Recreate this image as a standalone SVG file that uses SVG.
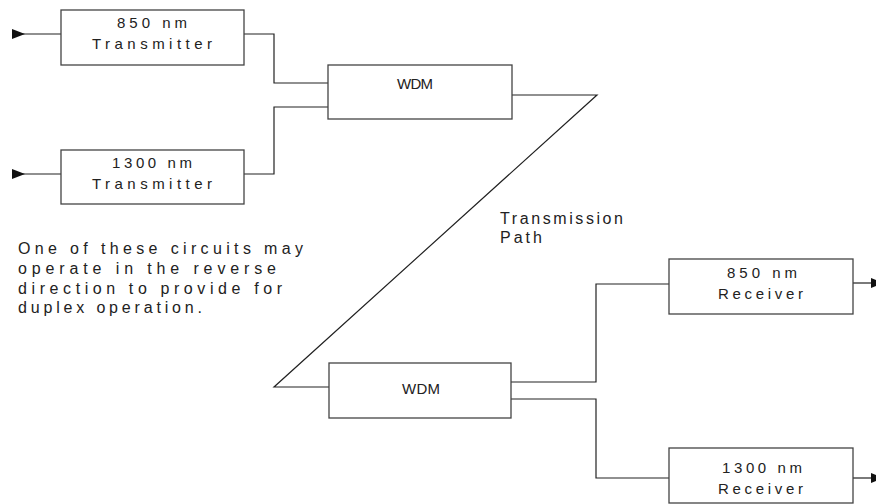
<svg xmlns="http://www.w3.org/2000/svg" width="876" height="504" viewBox="0 0 876 504">
<style>
.box{fill:#fff;stroke:#444;stroke-width:1.3}
.wire{fill:none;stroke:#222;stroke-width:1.2}
text{font-family:"Liberation Sans",Arial,sans-serif;fill:#222;font-size:15px;lengthAdjust:spacing}
.c{text-anchor:start}
.note{font-size:16px}
</style>
<defs>
<marker id="arr" markerUnits="userSpaceOnUse" markerWidth="14" markerHeight="12" refX="0" refY="5" orient="auto" overflow="visible">
<path d="M0,0 L13,5 L0,10 z" fill="#111"/>
</marker>
</defs>
<rect width="876" height="504" fill="#fff"/>
<g id="connectors">
<path class="wire" d="M12,34 H61" marker-start="url(#arr)"/>
<path class="wire" d="M12,174 H61" marker-start="url(#arr)"/>
<path class="wire" d="M244,34 H274 V83 H329"/>
<path class="wire" d="M244,174 H274 V107 H329"/>
<path class="wire" d="M512,95 H597 L274,387 H329"/>
<path class="wire" d="M511,382 H596 V284 H669"/>
<path class="wire" d="M511,399 H596 V478 H669"/>
<path class="wire" d="M853,283 H871" marker-end="url(#arr)"/>
<path class="wire" d="M853,478 H871" marker-end="url(#arr)"/>
</g>
<g id="tx850">
<rect class="box" x="61" y="10" width="183" height="55"/>
<text x="117" y="28" textLength="70" lengthAdjust="spacing">850 nm</text>
<text x="92" y="49" textLength="120" lengthAdjust="spacing">Transmitter</text>
</g>
<g id="tx1300">
<rect class="box" x="61" y="150" width="183" height="54"/>
<text x="112" y="168" textLength="80" lengthAdjust="spacing">1300 nm</text>
<text x="92" y="189" textLength="120" lengthAdjust="spacing">Transmitter</text>
</g>
<g id="wdm1">
<rect class="box" x="328" y="65" width="184" height="54"/>
<text x="397" y="89" textLength="36" lengthAdjust="spacing">WDM</text>
</g>
<g id="wdm2">
<rect class="box" x="329" y="363" width="182" height="55"/>
<text x="402" y="394" textLength="38" lengthAdjust="spacing">WDM</text>
</g>
<g id="rx850">
<rect class="box" x="669" y="259" width="184" height="55"/>
<text x="727" y="278" textLength="70" lengthAdjust="spacing">850 nm</text>
<text x="718" y="299" textLength="85" lengthAdjust="spacing">Receiver</text>
</g>
<g id="rx1300">
<rect class="box" x="669" y="448" width="184" height="55"/>
<text x="722" y="473" textLength="80" lengthAdjust="spacing">1300 nm</text>
<text x="718" y="494" textLength="85" lengthAdjust="spacing">Receiver</text>
</g>
<g id="path-label">
<text class="note" x="500" y="224" textLength="123" lengthAdjust="spacing">Transmission</text>
<text class="note" x="500" y="243" textLength="42" lengthAdjust="spacing">Path</text>
</g>
<g id="note">
<text class="note" x="18" y="254" textLength="285" lengthAdjust="spacing">One of these circuits may</text>
<text class="note" x="18" y="274" textLength="258" lengthAdjust="spacing">operate in the reverse</text>
<text class="note" x="18" y="294" textLength="264" lengthAdjust="spacing">direction to provide for</text>
<text class="note" x="18" y="313" textLength="184" lengthAdjust="spacing">duplex operation.</text>
</g>
</svg>
